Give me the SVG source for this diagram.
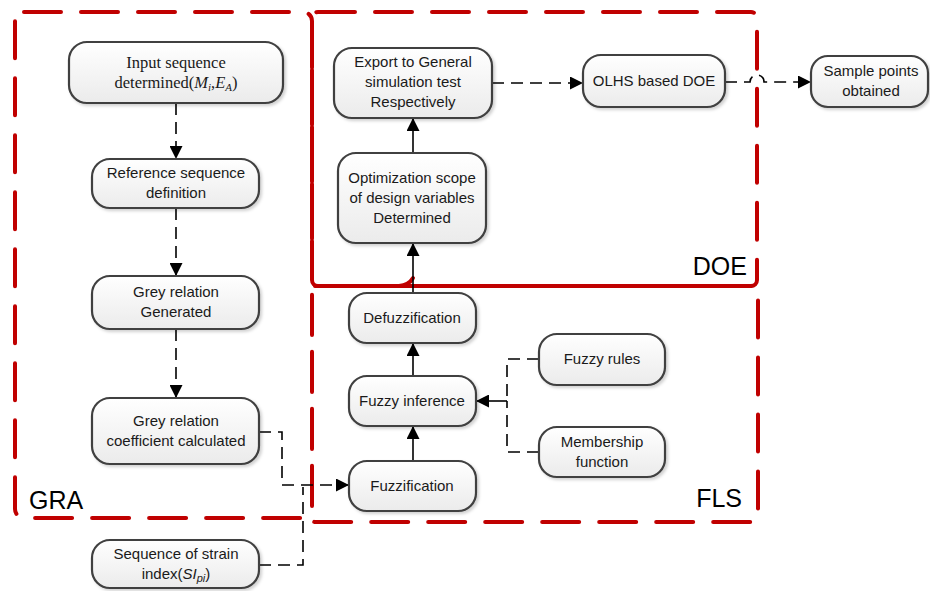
<svg xmlns="http://www.w3.org/2000/svg" width="930" height="591" viewBox="0 0 930 591">
<style>
.box{fill:url(#g);stroke:#404040;stroke-width:2.2;filter:url(#sh)}
.t{font-family:"Liberation Sans",Arial,sans-serif;font-size:15px;fill:#1a1a1a;text-anchor:middle}
.ts{font-family:"Liberation Serif","Times New Roman",serif;font-size:16.5px;fill:#1a1a1a;text-anchor:middle}
.red{fill:none;stroke:#c00000;stroke-width:4;stroke-dasharray:37 20;stroke-linecap:round}
.lab{font-family:"Liberation Sans",Arial,sans-serif;font-size:25px;fill:#000}
.c{fill:none;stroke:#000;stroke-width:1.6}
.d{stroke-dasharray:12 7}
</style>
<defs>
<linearGradient id="g" x1="0" y1="0" x2="0" y2="1"><stop offset="0" stop-color="#ffffff"/><stop offset="1" stop-color="#ebebeb"/></linearGradient>
<filter id="sh" x="-10%" y="-10%" width="130%" height="140%"><feDropShadow dx="2" dy="2" stdDeviation="1.5" flood-color="#000" flood-opacity="0.18"/></filter>
<marker id="a" markerUnits="userSpaceOnUse" markerWidth="13" markerHeight="13" refX="13" refY="6.5" orient="auto"><path d="M0,0 L13,6.5 L0,13 z" fill="#000"/></marker>
</defs>

<g id="regions">
<rect class="red" x="15" y="12" width="297" height="506" rx="9"/>
<rect class="red" x="312" y="12" width="445" height="274" rx="6"/>
<rect class="red" x="312" y="286" width="446" height="236" rx="3"/>
<path d="M399 286 Q409 285 413 278" fill="none" stroke="#c00000" stroke-width="4" stroke-linecap="round"/>
<text class="lab" x="29" y="509">GRA</text>
<text class="lab" x="747" y="275" text-anchor="end">DOE</text>
<text class="lab" x="742" y="507" text-anchor="end">FLS</text>
</g>

<g id="connectors">
<path class="c d" d="M176 103 V159" marker-end="url(#a)"/>
<path class="c d" d="M176 208 V276" marker-end="url(#a)"/>
<path class="c d" d="M176 329 V398" marker-end="url(#a)"/>
<path class="c" d="M413 153 V118" marker-end="url(#a)"/>
<path class="c" d="M413 293 V243" marker-end="url(#a)"/>
<path class="c" d="M413 376 V343" marker-end="url(#a)"/>
<path class="c" d="M413 461 V426" marker-end="url(#a)"/>
<path class="c d" d="M492 83 H583" marker-end="url(#a)"/>
<path class="c d" d="M725 82 H750 A7 7 0 0 1 764 82 H811" marker-end="url(#a)"/>
<path class="c d" d="M539 359 H507 V401"/>
<path class="c d" d="M539 452 H507 V401"/>
<path class="c" d="M507 401 H476" marker-end="url(#a)"/>
<path class="c d" d="M259 432 H282 V485 H349" marker-end="url(#a)"/>
<path class="c d" d="M259 565 H303 V487"/>
</g>

<g id="n1"><rect class="box" x="69" y="42" width="214" height="61" rx="18"/>
<text class="ts" x="176" y="68">Input sequence</text>
<text class="ts" x="176" y="88">determined(<tspan font-style="italic">M</tspan><tspan font-style="italic" font-size="11" dy="3">i</tspan><tspan dy="-3">,</tspan><tspan font-style="italic">E</tspan><tspan font-style="italic" font-size="11" dy="3">A</tspan><tspan dy="-3">)</tspan></text></g>
<g id="n2"><rect class="box" x="92" y="159" width="167" height="49" rx="18"/>
<text class="t" x="176" y="178">Reference sequence</text>
<text class="t" x="176" y="198">definition</text></g>
<g id="n3"><rect class="box" x="92" y="276" width="167" height="53" rx="18"/>
<text class="t" x="176" y="297">Grey relation</text>
<text class="t" x="176" y="317">Generated</text></g>
<g id="n4"><rect class="box" x="92" y="398" width="167" height="66" rx="18"/>
<text class="t" x="176" y="426">Grey relation</text>
<text class="t" x="176" y="446">coefficient calculated</text></g>
<g id="n5"><rect class="box" x="92" y="540" width="167" height="48" rx="18"/>
<text class="t" x="176" y="559">Sequence of strain</text>
<text class="t" x="176" y="579">index(<tspan font-style="italic">SI</tspan><tspan font-style="italic" font-size="11" dy="3">pi</tspan><tspan dy="-3">)</tspan></text></g>

<g id="n6"><rect class="box" x="334" y="48" width="158" height="70" rx="18"/>
<text class="t" x="413" y="67">Export to General</text>
<text class="t" x="413" y="87">simulation test</text>
<text class="t" x="413" y="107">Respectively</text></g>
<g id="n7"><rect class="box" x="338" y="153" width="148" height="90" rx="18"/>
<text class="t" x="412" y="183">Optimization scope</text>
<text class="t" x="412" y="203">of design variables</text>
<text class="t" x="412" y="223">Determined</text></g>
<g id="n8"><rect class="box" x="583" y="55" width="142" height="52" rx="18"/>
<text class="t" x="654" y="86">OLHS based DOE</text></g>
<g id="n9"><rect class="box" x="811" y="56" width="117" height="51" rx="17"/>
<text class="t" x="871" y="76">Sample points</text>
<text class="t" x="871" y="96">obtained</text></g>

<g id="n10"><rect class="box" x="349" y="293" width="127" height="50" rx="18"/>
<text class="t" x="412" y="323">Defuzzification</text></g>
<g id="n11"><rect class="box" x="349" y="376" width="127" height="50" rx="18"/>
<text class="t" x="412" y="406">Fuzzy inference</text></g>
<g id="n12"><rect class="box" x="349" y="461" width="127" height="50" rx="18"/>
<text class="t" x="412" y="491">Fuzzification</text></g>
<g id="n13"><rect class="box" x="539" y="334" width="126" height="51" rx="18"/>
<text class="t" x="602" y="364">Fuzzy rules</text></g>
<g id="n14"><rect class="box" x="539" y="427" width="126" height="50" rx="18"/>
<text class="t" x="602" y="447">Membership</text>
<text class="t" x="602" y="467">function</text></g>
</svg>
